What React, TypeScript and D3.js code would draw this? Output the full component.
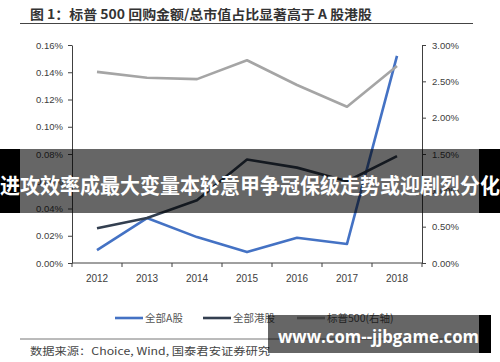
import * as d3 from "d3"
import { useEffect, useRef } from "react"

const years = ["2012", "2013", "2014", "2015", "2016", "2017", "2018"]
// buyback amount / market cap, in %
const aShares = [0.0095, 0.033, 0.019, 0.008, 0.0185, 0.014, 0.152]
const hkShares = [0.0255, 0.033, 0.046, 0.076, 0.07, 0.06, 0.0785]
const sp500 = [2.63, 2.55, 2.53, 2.79, 2.45, 2.15, 2.71] // right axis

const leftTicks = [0, 0.02, 0.04, 0.06, 0.08, 0.1, 0.12, 0.14, 0.16]
const rightTicks = [0, 0.5, 1, 1.5, 2, 2.5, 3]

const title = "图 1：标普 500 回购金额/总市值占比显著高于 A 股港股"
const source = "数据来源：Choice, Wind, 国泰君安证券研究"
const banner = "进攻效率成最大变量本轮意甲争冠保级走势或迎剧烈分化"
const watermark = "www.com--jjbgame.com"

const series = [
  { name: "全部A股", values: aShares, color: "#4472C4", axis: "left" },
  { name: "全部港股", values: hkShares, color: "#333F50", axis: "left" },
  { name: "标普500(右轴)", values: sp500, color: "#A5A5A5", axis: "right" },
]

export default function App() {
  const svgRef = useRef<SVGSVGElement>(null)

  useEffect(() => {
    if (!svgRef.current) return
    const svg = d3.select(svgRef.current)
    svg.selectAll("*").remove()

    const W = 500
    const H = 362
    const plot = { left: 72, right: 422, top: 45, bottom: 263 }
    const cjk = "'Noto Sans CJK SC', sans-serif"
    const latin = "'Liberation Sans', Arial, sans-serif"
    const axisColor = "#404040"
    const labelColor = "#404040"

    svg.append("rect").attr("width", W).attr("height", H).attr("fill", "#fff")

    // title
    svg
      .append("text")
      .attr("x", 30)
      .attr("y", 19)
      .attr("textLength", 342)
      .attr("lengthAdjust", "spacingAndGlyphs")
      .style("font-family", cjk)
      .style("font-size", "13px")
      .style("font-weight", "bold")
      .attr("fill", "#333")
      .text(title)
    svg
      .append("line")
      .attr("x1", 20)
      .attr("x2", 473)
      .attr("y1", 23.5)
      .attr("y2", 23.5)
      .attr("stroke", "#444")
      .attr("stroke-width", 1.2)

    const x = d3.scaleBand().domain(years).range([plot.left, plot.right]).paddingInner(0)
    const yL = d3.scaleLinear().domain([0, 0.16]).range([plot.bottom, plot.top])
    const yR = d3.scaleLinear().domain([0, 3]).range([plot.bottom, plot.top])

    // left axis
    const gl = svg
      .append("g")
      .attr("transform", `translate(${plot.left},0)`)
      .call(
        d3
          .axisLeft(yL)
          .tickValues(leftTicks)
          .tickSizeInner(4)
          .tickSizeOuter(0)
          .tickPadding(5)
          .tickFormat((d) => (d as number).toFixed(2) + "%")
      )
    // right axis
    const gr = svg
      .append("g")
      .attr("transform", `translate(${plot.right},0)`)
      .call(
        d3
          .axisRight(yR)
          .tickValues(rightTicks)
          .tickSizeInner(4)
          .tickSizeOuter(0)
          .tickPadding(6)
          .tickFormat((d) => (d as number).toFixed(2) + "%")
      )
    for (const g of [gl, gr]) {
      g.select(".domain").attr("stroke", axisColor)
      g.selectAll("line").attr("stroke", axisColor)
      g.selectAll("text")
        .attr("fill", labelColor)
        .style("font-family", latin)
        .style("font-size", "9.5px")
    }

    // bottom axis with ticks on category boundaries
    const gx = svg.append("g")
    gx.append("line")
      .attr("x1", plot.left)
      .attr("x2", plot.right)
      .attr("y1", plot.bottom)
      .attr("y2", plot.bottom)
      .attr("stroke", axisColor)
    const bounds = years.map((y) => x(y) as number).concat([(x(years[years.length - 1]) as number) + x.bandwidth()])
    gx.selectAll("line.tick")
      .data(bounds)
      .join("line")
      .attr("class", "tick")
      .attr("x1", (d) => d)
      .attr("x2", (d) => d)
      .attr("y1", plot.bottom)
      .attr("y2", plot.bottom + 4)
      .attr("stroke", axisColor)
    gx.selectAll("text")
      .data(years)
      .join("text")
      .attr("x", (d) => (x(d) as number) + x.bandwidth() / 2)
      .attr("y", plot.bottom + 19)
      .attr("text-anchor", "middle")
      .attr("fill", labelColor)
      .style("font-family", latin)
      .style("font-size", "10px")
      .text((d) => d)

    // lines
    for (const s of series) {
      const yy = s.axis === "left" ? yL : yR
      const line = d3
        .line<number>()
        .x((_, i) => (x(years[i]) as number) + x.bandwidth() / 2)
        .y((d) => yy(d))
      svg
        .append("path")
        .datum(s.values)
        .attr("fill", "none")
        .attr("stroke", s.color)
        .attr("stroke-width", 2.6)
        .attr("stroke-linejoin", "round")
        .attr("d", line)
    }

    // legend
    const legendX = [115, 203, 297]
    const lg = svg
      .selectAll("g.legend")
      .data(series)
      .join("g")
      .attr("class", "legend")
      .attr("transform", (_, i) => `translate(${legendX[i]},318)`)
    lg.append("line")
      .attr("x1", 0)
      .attr("x2", 28)
      .attr("stroke", (d) => d.color)
      .attr("stroke-width", 2.6)
    lg.append("text")
      .attr("x", 30)
      .attr("y", 4)
      .attr("fill", "#555")
      .style("font-family", cjk)
      .style("font-size", "10.5px")
      .text((d) => d.name)

    // source
    svg
      .append("line")
      .attr("x1", 20)
      .attr("x2", 473)
      .attr("y1", 339)
      .attr("y2", 339)
      .attr("stroke", "#777")
      .attr("stroke-width", 1)
    svg
      .append("text")
      .attr("x", 30)
      .attr("y", 355)
      .attr("textLength", 240)
      .attr("lengthAdjust", "spacingAndGlyphs")
      .attr("fill", "#444")
      .style("font-family", cjk)
      .style("font-size", "10px")
      .text(source)

    // banner overlay
    svg.append("rect").attr("x", 0).attr("y", 149).attr("width", 20).attr("height", 64).attr("fill", "#000")
    svg.append("rect").attr("x", 479).attr("y", 149).attr("width", 21).attr("height", 64).attr("fill", "#000")
    svg
      .append("rect")
      .attr("x", 20)
      .attr("y", 149)
      .attr("width", 459)
      .attr("height", 64)
      .attr("fill", "#000")
      .attr("fill-opacity", 0.6)
    svg
      .append("text")
      .attr("x", 0)
      .attr("y", 193)
      .attr("textLength", 500)
      .attr("lengthAdjust", "spacingAndGlyphs")
      .attr("fill", "#fff")
      .style("font-family", cjk)
      .style("font-size", "21px")
      .style("font-weight", "bold")
      .text(banner)

    // watermark overlay
    svg
      .append("rect")
      .attr("x", 268)
      .attr("y", 315)
      .attr("width", 211)
      .attr("height", 38)
      .attr("fill", "#000")
      .attr("fill-opacity", 0.6)
    svg.append("rect").attr("x", 479).attr("y", 315).attr("width", 12).attr("height", 38).attr("fill", "#000")
    svg
      .append("text")
      .attr("x", 278)
      .attr("y", 343)
      .attr("textLength", 201)
      .attr("lengthAdjust", "spacingAndGlyphs")
      .attr("fill", "#fff")
      .style("font-family", "'Open Sans', 'DejaVu Sans', sans-serif")
      .style("font-size", "18px")
      .style("font-weight", "bold")
      .text(watermark)
  }, [])

  return (
    <svg
      ref={svgRef}
      width={500}
      height={362}
      style={{ position: "absolute", left: 0, top: 0, display: "block" }}
    />
  )
}
